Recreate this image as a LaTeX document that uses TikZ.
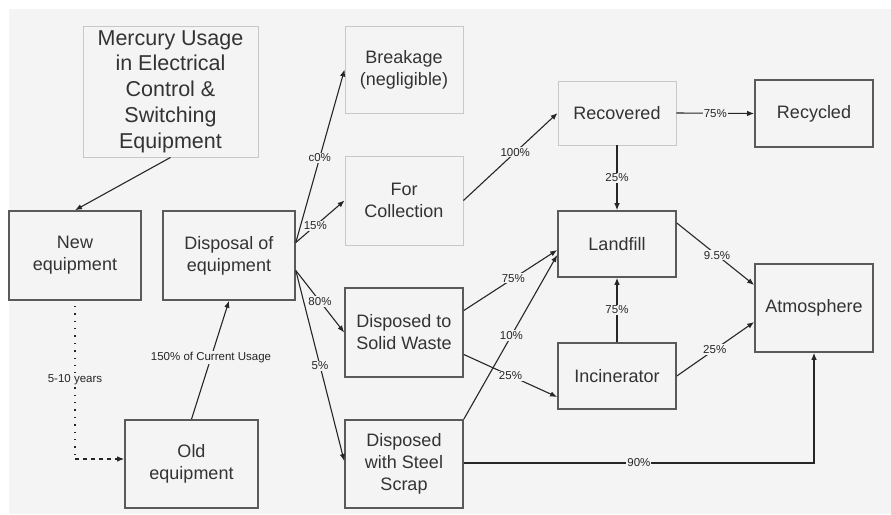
\documentclass[tikz,border=0pt]{standalone}
\usepackage{fontspec}
\setmainfont{Liberation Sans}
\usetikzlibrary{arrows.meta}
\definecolor{paper}{HTML}{F4F4F4}
\definecolor{boxline}{HTML}{5A5A5A}
\definecolor{paleline}{HTML}{C8C8C8}
\definecolor{ink}{HTML}{333333}
\begin{document}
\begin{tikzpicture}[x=1pt,y=-1pt,
  base/.style={rectangle,align=center,inner sep=0pt,text=ink,
    font=\fontsize{18}{22}\selectfont},
  solidbox/.style={base,draw=boxline,line width=1.6pt},
  palebox/.style={base,draw=paleline,line width=0.9pt},
  flow/.style={draw=black!85,line width=1.1pt,-{Latex[length=7pt,width=5.5pt]}},
  pct/.style={fill=paper,inner sep=1pt,text=black!85,
    font=\fontsize{11.5}{12}\selectfont}]
% canvas
\useasboundingbox (0,0) rectangle (891,514);
\fill[white] (0,0) rectangle (891,514);
\fill[paper] (9,9) rectangle (891,514);

% boxes
\node[palebox,minimum width=175pt,minimum height=131pt,
  font=\fontsize{21.5}{25.7}\selectfont] (merc) at (170.5,91.5)
  {Mercury Usage\\in Electrical\\Control \&\\Switching\\Equipment};
\node[solidbox,minimum width=132pt,minimum height=89pt] (neweq) at (75,255.5) {New\\equipment};
\node[solidbox,minimum width=132pt,minimum height=89pt] (disp) at (229,255.5) {Disposal of\\equipment};
\node[solidbox,minimum width=133pt,minimum height=88pt] (oldeq) at (191.5,464) {Old\\equipment};
\node[palebox,minimum width=118pt,minimum height=87pt] (brk) at (404,69.5) {Breakage\\(negligible)};
\node[palebox,minimum width=118pt,minimum height=89pt] (coll) at (404,200.5) {For\\Collection};
\node[solidbox,minimum width=118pt,minimum height=89pt] (solid) at (404,332.5) {Disposed to\\Solid Waste};
\node[solidbox,minimum width=118pt,minimum height=88pt] (steel) at (404,464) {Disposed\\with Steel\\Scrap};
\node[palebox,minimum width=118pt,minimum height=64pt] (recov) at (617,113) {Recovered};
\node[solidbox,minimum width=118pt,minimum height=66pt] (landf) at (617,244) {Landfill};
\node[solidbox,minimum width=118pt,minimum height=66pt] (incin) at (617,376) {Incinerator};
\node[solidbox,minimum width=118pt,minimum height=67pt] (recyc) at (814,113.5) {Recycled};
\node[solidbox,minimum width=118pt,minimum height=88pt] (atmos) at (814,308) {Atmosphere};

% life cycle of the equipment
\draw[flow] (merc.south) -- (neweq.north);
\coordinate (bend) at (neweq.south |- 0,459);
\draw[draw=black!85,line width=1.4pt,dash pattern=on 1.4pt off 6pt]
  ([yshift=-5pt]neweq.south) -- node[pct,pos=0.48] {5-10 years} (bend);
\draw[flow,dash pattern=on 4pt off 4pt] (bend) -- ([yshift=5pt]oldeq.west);
\draw[flow] (oldeq.north) -- node[pct,pos=0.52] {150\% of Current Usage} (disp.south);

% fate of disposed equipment
\draw[flow] ([yshift=13pt]disp.east) -- node[pct,pos=0.49] {c0\%} (brk.west);
\draw[flow] ([yshift=13pt]disp.east) -- node[pct,pos=0.4] {15\%} (coll.west);
\draw[flow] ([yshift=-15pt]disp.east) -- node[pct,pos=0.5] {80\%} (solid.west);
\draw[flow] ([yshift=-15pt]disp.east) -- node[pct,pos=0.5] {5\%} ([yshift=3pt]steel.west);

% collection and recovery
\draw[flow] (coll.east) -- node[pct,pos=0.55] {100\%} (recov.west);
\draw[flow] (recov.east) -- node[pct,pos=0.5] {75\%} (recyc.west);
\draw[flow] (recov.south) -- node[pct,pos=0.5] {25\%} (landf.north);

% solid waste and scrap streams
\draw[flow] ([yshift=22pt]solid.east) -- node[pct,pos=0.53] {75\%} ([yshift=-6pt]landf.west);
\draw[flow] ([yshift=-22pt]solid.east) -- node[pct,pos=0.5] {25\%} ([yshift=-21pt]incin.west);
\draw[flow] (steel.north east) -- node[pct,pos=0.51] {10\%} ([yshift=-11pt]landf.west);
\draw[flow] ([yshift=1pt]steel.east) -| node[pct,pos=0.25] {90\%} (atmos.south);

% releases to the atmosphere
\draw[flow] (incin.north) -- node[pct,pos=0.5] {75\%} (landf.south);
\draw[flow] ([yshift=21pt]landf.east) -- node[pct,pos=0.52] {9.5\%} ([yshift=23pt]atmos.west);
\draw[flow] (incin.east) -- node[pct,pos=0.49] {25\%} ([yshift=-14pt]atmos.west);
\end{tikzpicture}
\end{document}
